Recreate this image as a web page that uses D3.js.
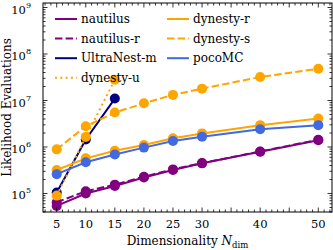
<!DOCTYPE html>
<html><head><meta charset="utf-8">
<script src="https://cdn.jsdelivr.net/npm/d3@7"></script>
<style>body{margin:0;background:#fff}svg{display:block}text{font-family:"DejaVu Serif",serif;fill:#000}</style>
</head><body><svg id="c" width="333" height="250"></svg>
<script>
const dims = [5,10,15,20,25,30,40,50];
const dimsShort = [5,10,15];
const nautilus   = [5.4e4,1.0e5,1.45e5,2.2e5,3.2e5,4.45e5,7.9e5,1.4e6];
const nautilusR  = [6.5e4,1.12e5,1.55e5,2.3e5,3.3e5,4.5e5,8.0e5,1.43e6];
const ultranestM = [1.05e5,1.45e6,1.1e7];
const dynestyU   = [9e4,1.65e6,2.8e7];
const dynestyR   = [3.2e5,5.7e5,8.3e5,1.1e6,1.54e6,1.96e6,2.95e6,4.1e6];
const dynestyS   = [8.9e5,2.8e6,5.5e6,8.7e6,1.32e7,1.8e7,3.2e7,4.8e7];
const pocoMC     = [2.6e5,4.7e5,6.9e5,9.7e5,1.35e6,1.67e6,2.4e6,2.95e6];
const xTickVals = [5,10,15,20,25,30,40,50];
const yTickExps = [5,6,7,8,9];

const series = [
  {name:"nautilus", x:dims, y:nautilus, color:"#800080", dash:null},
  {name:"nautilus-r", x:dims, y:nautilusR, color:"#800080", dash:"7.4,3.2"},
  {name:"UltraNest-m", x:dimsShort, y:ultranestM, color:"#000080", dash:null},
  {name:"dynesty-u", x:dimsShort, y:dynestyU, color:"#FFA500", dash:"2,3.3"},
  {name:"dynesty-r", x:dims, y:dynestyR, color:"#FFA500", dash:null},
  {name:"dynesty-s", x:dims, y:dynestyS, color:"#FFA500", dash:"7.4,3.2"},
  {name:"pocoMC", x:dims, y:pocoMC, color:"#4169E1", dash:null}
];

const L=43, R=332, T=3, B=212;
const svg = d3.select("#c");
const x = d3.scaleLinear().domain([2.64,52.36]).range([L,R]);
const y = d3.scaleLog().domain([Math.pow(10,4.602),Math.pow(10,9.097)]).range([B,T]);

// series
const line = d3.line().x(d=>x(d[0])).y(d=>y(d[1]));
series.forEach(s=>{
  const pts = s.x.map((v,i)=>[v,s.y[i]]);
  const g = svg.append("g");
  g.append("path").attr("d",line(pts)).attr("fill","none").attr("stroke",s.color)
   .attr("stroke-width",2).attr("stroke-dasharray",s.dash);
  g.selectAll("circle").data(pts).enter().append("circle")
   .attr("cx",d=>x(d[0])).attr("cy",d=>y(d[1])).attr("r",5).attr("fill",s.color);
});

// frame
svg.append("rect").attr("x",L).attr("y",T).attr("width",R-L).attr("height",B-T)
  .attr("fill","none").attr("stroke","#000").attr("stroke-width",1);

// ticks
const tk = svg.append("g").attr("stroke","#000").attr("stroke-width",0.8);
for(let v=3; v<=52; v++){
  const major = xTickVals.includes(v) || v%5===0;
  const len = major?4.5:2.5;
  tk.append("line").attr("x1",x(v)).attr("x2",x(v)).attr("y1",B).attr("y2",B-len);
  tk.append("line").attr("x1",x(v)).attr("x2",x(v)).attr("y1",T).attr("y2",T+len);
}
const [y0,y1] = y.domain();
for(let e=4;e<=9;e++){
  for(let m=1;m<=9;m++){
    const v=m*Math.pow(10,e);
    if(v<y0||v>y1) continue;
    const len = m===1?4.5:2.5;
    tk.append("line").attr("x1",L).attr("x2",L+len).attr("y1",y(v)).attr("y2",y(v));
    tk.append("line").attr("x1",R).attr("x2",R-len).attr("y1",y(v)).attr("y2",y(v));
  }
}

// x tick labels
svg.append("g").selectAll("text").data(xTickVals).enter().append("text")
  .attr("x",d=>x(d)).attr("y",228).attr("text-anchor","middle").attr("font-size",11.5).text(d=>d);
// y tick labels
yTickExps.forEach(e=>{
  const t = svg.append("text").attr("x",31).attr("y",y(Math.pow(10,e))+6).attr("text-anchor","end").attr("font-size",11.5);
  t.append("tspan").text("10");
  t.append("tspan").attr("font-size",8).attr("dy",-6).text(e);
});

// axis titles
const xt = svg.append("text").attr("x",(L+R)/2).attr("y",245).attr("text-anchor","middle").attr("font-size",12);
xt.append("tspan").text("Dimensionality ");
xt.append("tspan").attr("font-style","italic").text("N");
xt.append("tspan").attr("font-size",8.5).attr("dy",3).text("dim");
svg.append("text").attr("transform",`translate(11,${(T+B)/2}) rotate(-90)`).attr("text-anchor","middle")
  .attr("font-size",12).text("Likelihood Evaluations");

// legend
const cols = [{x0:55, items:series.slice(0,4)},{x0:167, items:series.slice(4)}];
cols.forEach(c=>{
  c.items.forEach((s,i)=>{
    const yy = 19 + i*19.6;
    svg.append("line").attr("x1",c.x0).attr("x2",c.x0+22).attr("y1",yy).attr("y2",yy)
      .attr("stroke",s.color).attr("stroke-width",2).attr("stroke-dasharray",s.dash);
    svg.append("text").attr("x",c.x0+26).attr("y",yy+4).attr("font-size",12).text(s.name);
  });
});
</script></body></html>
